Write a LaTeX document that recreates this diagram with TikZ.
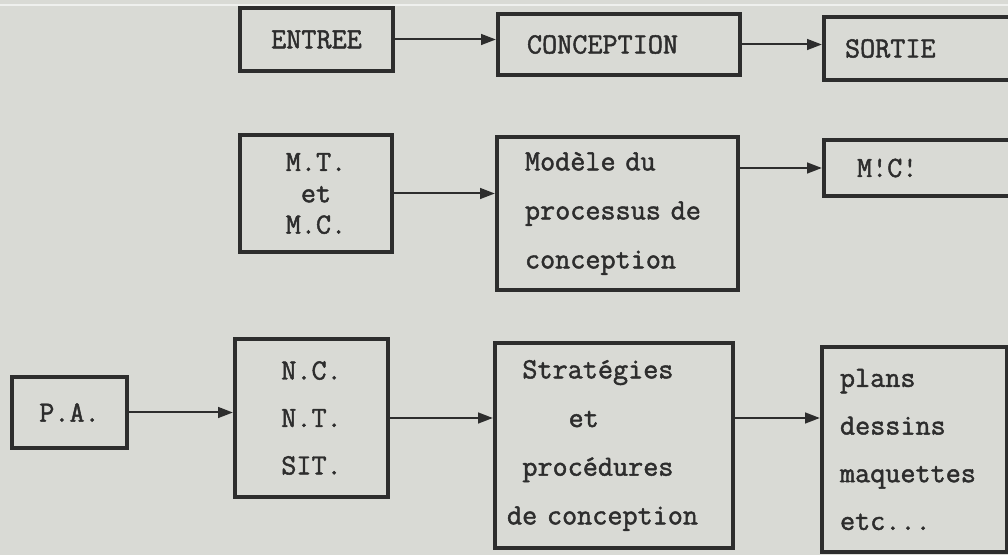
\documentclass[tikz,border=0pt]{standalone}
\usepackage{fontspec}
\newfontfamily\tw{Latin Modern Mono}[FakeBold=1.6]
\newcommand\tcell[1]{\hspace*{#1\dimexpr 0.525em\relax}}
\usetikzlibrary{arrows.meta}
\definecolor{paper}{RGB}{217,218,213}
\definecolor{ink}{RGB}{45,45,45}
\tikzset{
  box/.style={draw=ink, line width=3.2pt, text=ink, inner ysep=0pt,
    font=\fontsize{22}{36.5}\selectfont\tw},
  ctr/.style={box, align=center, inner xsep=0pt},
  lft/.style={box, align=left},
  arr/.style={draw=ink, line width=1.5pt, -{Triangle[length=11pt,width=8pt]}},
}
\begin{document}
\begin{tikzpicture}[x=0.75pt, y=-0.75pt]
\useasboundingbox (0,0) rectangle (1008,555);
\fill[paper] (0,0) rectangle (1008,555);
\draw[white, opacity=0.6, line width=0.8pt] (0,5) -- (1008,5);
\clip (0,0) rectangle (1008,555);
% row 1
\node[ctr, minimum width=114.75pt, minimum height=47.25pt] (entree) at (316.5,39.5) {ENTREE};
\node[lft, minimum height=45.75pt, inner xsep=21.75pt, text width=138pt] (concept) at (619,44.5) {CONCEPTION};
\node[lft, minimum height=47.25pt, inner xsep=15.75pt, text width=123pt] (sortie) at (927,48.5) {SORTIE};
% row 2
\node[ctr, minimum width=114pt, minimum height=87.75pt, font=\fontsize{22}{23.5}\selectfont\tw] (mt) at (316,193.5) {M.T.\\et\\M.C.};
\node[lft, minimum height=114.75pt, inner xsep=21pt, text width=138.75pt, font=\fontsize{22}{36.75}\selectfont\tw] (modele) at (617.5,213.5) {Modèle du\\processus de\\conception};
\node[lft, minimum height=42pt, inner xsep=24.75pt, text width=105pt] (mc) at (927,168) {M\rlap{'}.C\rlap{'}.};
% row 3
\node[ctr, minimum width=86.25pt, minimum height=53.25pt] (pa) at (69.5,412.5) {P.A.};
\node[ctr, minimum width=114.75pt, minimum height=118.5pt, font=\fontsize{22}{35.6}\selectfont\tw] (nc) at (311.5,418) {N.C.\\N.T.\\SIT.};
\node[lft, minimum height=153.75pt, inner xsep=9pt, text width=160.5pt] (strat) at (614,445.5) {\tcell{1}Stratégies\\\tcell{4}et\\\tcell{1}procédures\\de conception};
\node[lft, minimum height=153.75pt, inner xsep=13.5pt, text width=111.75pt, font=\fontsize{22}{35.75}\selectfont\tw] (plans) at (914.5,449.5) {plans\\dessins\\maquettes\\etc...};
% connectors
\draw[arr] (entree.east) -- (entree.east -| concept.west);
\draw[arr] (concept.east) -- (concept.east -| sortie.west);
\draw[arr] (mt.east) -- (mt.east -| modele.west);
\draw[arr] (modele.east |- mc.west) -- (mc.west);
\draw[arr] (pa.east) -- (pa.east -| nc.west);
\draw[arr] (nc.east) -- (nc.east -| strat.west);
\draw[arr] (strat.east |- nc.east) -- (plans.west |- nc.east);
\end{tikzpicture}
\end{document}
